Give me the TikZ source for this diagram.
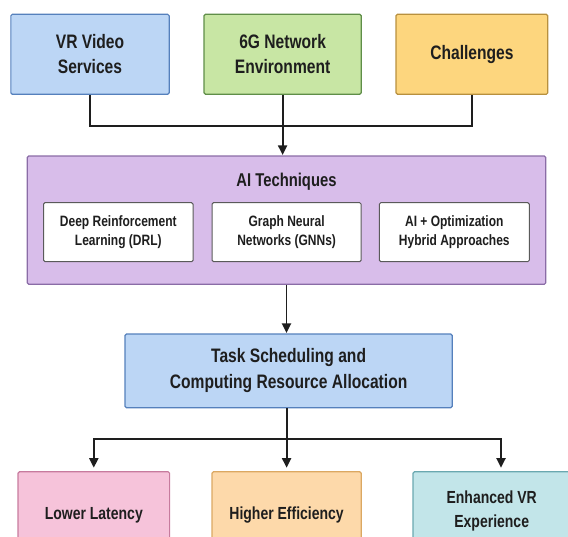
\documentclass[tikz,border=0pt]{standalone}
\usepackage{fontspec}
\setmainfont{Liberation Sans}[FakeStretch=0.8]
\usetikzlibrary{arrows.meta}

\definecolor{ink}{HTML}{1E1E1E}
\definecolor{bluefill}{HTML}{BCD6F5}
\definecolor{blueline}{HTML}{5580BC}
\definecolor{greenfill}{HTML}{C8E6A4}
\definecolor{greenline}{HTML}{5F8E48}
\definecolor{goldfill}{HTML}{FDD67E}
\definecolor{goldline}{HTML}{B8903E}
\definecolor{purplefill}{HTML}{D8BDEA}
\definecolor{purpleline}{HTML}{8A6CA6}
\definecolor{greyline}{HTML}{5A5A5A}
\definecolor{pinkfill}{HTML}{F6C3DA}
\definecolor{pinkline}{HTML}{C77B9E}
\definecolor{peachfill}{HTML}{FDD9AA}
\definecolor{peachline}{HTML}{DBA862}
\definecolor{cyanfill}{HTML}{C2E5E9}
\definecolor{cyanline}{HTML}{6AA8B0}

\newcommand\fTop{\bfseries\fontsize{19.5}{25}\selectfont}
\newcommand\fTitle{\bfseries\fontsize{18.5}{22}\selectfont}
\newcommand\fInner{\bfseries\fontsize{15}{18.4}\selectfont}
\newcommand\fTask{\bfseries\fontsize{19.5}{26}\selectfont}
\newcommand\fOut{\bfseries\fontsize{17.5}{23.5}\selectfont}

\begin{document}
\begin{tikzpicture}[x=1pt,y=-1pt,
  box/.style={draw, rounded corners=1.5pt, line width=1.2pt, align=center,
              text=ink, inner sep=0pt},
  link/.style={draw=ink, line width=1.9pt},
  arr/.style={link, -{Triangle[length=9.5pt,width=9pt]}},
]
\useasboundingbox (0,0) rectangle (568,537);
\clip (0,0) rectangle (568,537);

% inputs
\node[box, fill=bluefill, draw=blueline, minimum width=158.3pt, minimum height=80pt, font=\fTop]
  (vr) at (90,54.3) {VR Video\\Services};
\node[box, fill=greenfill, draw=greenline, minimum width=157.2pt, minimum height=80pt, font=\fTop]
  (g6) at (282.6,54.3) {6G Network\\Environment};
\node[box, fill=goldfill, draw=goldline, minimum width=151.8pt, minimum height=80pt, font=\fTop]
  (ch) at (471.9,54.3) {Challenges};

% AI techniques panel
\node[box, fill=purplefill, draw=purpleline, minimum width=518.5pt, minimum height=128.3pt]
  (ai) at (286.5,220.2) {};
\node[text=ink, font=\fTitle, anchor=base] (aititle) at (286.5,186.5) {AI Techniques};
\node[box, fill=white, draw=greyline, line width=1pt, minimum width=149.6pt, minimum height=59pt, font=\fInner]
  (drl) at (118.3,232.2) {Deep Reinforcement\\Learning (DRL)};
\node[box, fill=white, draw=greyline, line width=1pt, minimum width=149.2pt, minimum height=59pt, font=\fInner]
  (gnn) at (286.6,232.2) {Graph Neural\\Networks (GNNs)};
\node[box, fill=white, draw=greyline, line width=1pt, minimum width=150pt, minimum height=59pt, font=\fInner]
  (hyb) at (454.3,232.2) {AI + Optimization\\Hybrid Approaches};

% scheduling
\node[box, fill=bluefill, draw=blueline, minimum width=327.2pt, minimum height=73.7pt, font=\fTask]
  (task) at (288.6,370.9) {Task Scheduling and\\Computing Resource Allocation};

% outcomes
\node[box, fill=pinkfill, draw=pinkline, minimum width=151.6pt, minimum height=86.6pt, font=\fOut]
  (low) at (93.8,515) {Lower Latency};
\node[box, fill=peachfill, draw=peachline, minimum width=149.2pt, minimum height=86.6pt, font=\fOut]
  (hi) at (286.6,515) {Higher Efficiency};
\node[box, fill=cyanfill, draw=cyanline, minimum width=157.4pt, minimum height=78.6pt, font=\fOut]
  (enh) at (491.7,511) {Enhanced VR\\Experience};

% connectors
\coordinate (join) at (283.7,126);
\draw[link] (vr.south) |- (join) -| (ch.south);
\draw[arr, shorten >=0.5pt] (g6.south) -- (g6.south |- ai.north);
\draw[arr, shorten >=0.5pt] (ai.south) -- (ai.south |- task.north);

\coordinate (split) at (286.6,439.3);
\coordinate (enhin) at ([xshift=9.3pt]enh.north);
\draw[link] (task.south -| split) -- (split);
\draw[arr, shorten >=3.4pt] (split) -| (low.north);
\draw[arr, shorten >=3.4pt] (split) -- (split |- hi.north);
\draw[arr, shorten >=3.4pt] (split) -| (enhin);
\end{tikzpicture}
\end{document}
